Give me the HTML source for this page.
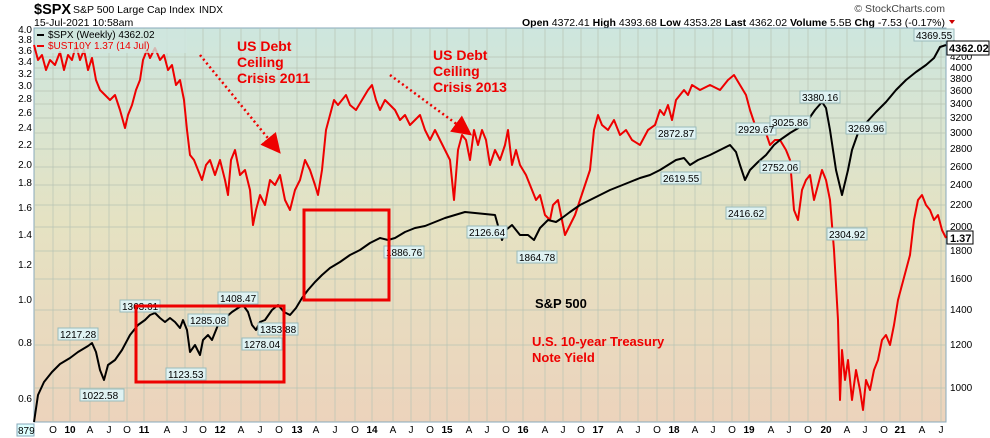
<!DOCTYPE html>
<html><head><meta charset="utf-8"><style>
body{margin:0;background:#fff;}
svg{display:block;font-family:"Liberation Sans",Arial,sans-serif;}
</style></head><body>
<svg width="990" height="438" viewBox="0 0 990 438" xmlns="http://www.w3.org/2000/svg">
<defs>
<linearGradient id="bg" x1="0" y1="0" x2="0" y2="1">
<stop offset="0" stop-color="#cde6de"/><stop offset="0.5" stop-color="#e5e2c2"/><stop offset="1" stop-color="#ecd3bc"/>
</linearGradient>
<marker id="ah" markerWidth="8" markerHeight="8" refX="5" refY="4" orient="auto"><path d="M0,0 L8,4 L0,8 z" fill="#e00"/></marker>
</defs>
<text x="34" y="14" font-size="14.5" font-weight="bold">$SPX</text>
<text x="73" y="13" font-size="10.5">S&amp;P 500 Large Cap Index</text>
<text x="199" y="13" font-size="10">INDX</text>
<text x="34" y="26" font-size="10.5">15-Jul-2021 10:58am</text>
<text x="945" y="12" font-size="10.5" fill="#444" text-anchor="end">© StockCharts.com</text>
<text x="945" y="26" font-size="10.5" text-anchor="end"><tspan font-weight="bold">Open</tspan> 4372.41  <tspan font-weight="bold">High</tspan> 4393.68  <tspan font-weight="bold">Low</tspan> 4353.28  <tspan font-weight="bold">Last</tspan> 4362.02  <tspan font-weight="bold">Volume</tspan> 5.5B  <tspan font-weight="bold">Chg</tspan> -7.53 (-0.17%)</text>
<path d="M949,20 l6,0 l-3,4 z" fill="#c00"/>
<rect x="34" y="28" width="912" height="394" fill="url(#bg)" stroke="#8ab" stroke-width="1"/>
<g stroke="#b8c4b4" stroke-width="0.7">
<path d="M53,28V422M70,28V422M90,28V422M109,28V422M127,28V422M144,28V422M167,28V422M185,28V422M203,28V422M220,28V422M241,28V422M260,28V422M279,28V422M297,28V422M316,28V422M335,28V422M355,28V422M372,28V422M393,28V422M411,28V422M430,28V422M447,28V422M469,28V422M487,28V422M506,28V422M523,28V422M545,28V422M563,28V422M581,28V422M598,28V422M620,28V422M638,28V422M657,28V422M674,28V422M695,28V422M713,28V422M732,28V422M749,28V422M771,28V422M789,28V422M808,28V422M826,28V422M847,28V422M865,28V422M884,28V422M900,28V422M922,28V422M941,28V422"/>
<path d="M34,57H946M34,68H946M34,79H946M34,91H946M34,104H946M34,118H946M34,133H946M34,149H946M34,167H946M34,185H946M34,205H946M34,227H946M34,251H946M34,279H946M34,310H946M34,345H946M34,388H946"/>
</g>
<g font-size="10" text-anchor="end">
<text x="32" y="33">4.0</text><text x="32" y="43">3.8</text><text x="32" y="54">3.6</text><text x="32" y="65">3.4</text><text x="32" y="77">3.2</text><text x="32" y="89">3.0</text><text x="32" y="102">2.8</text><text x="32" y="116">2.6</text><text x="32" y="131">2.4</text><text x="32" y="148">2.2</text><text x="32" y="168">2.0</text><text x="32" y="186">1.8</text><text x="32" y="211">1.6</text><text x="32" y="238">1.4</text><text x="32" y="268">1.2</text><text x="32" y="303">1.0</text><text x="32" y="346">0.8</text><text x="32" y="402">0.6</text>
</g>
<g font-size="10">
<text x="950" y="60">4200</text><text x="950" y="71">4000</text><text x="950" y="82">3800</text><text x="950" y="94">3600</text><text x="950" y="107">3400</text><text x="950" y="121">3200</text><text x="950" y="136">3000</text><text x="950" y="152">2800</text><text x="950" y="170">2600</text><text x="950" y="188">2400</text><text x="950" y="208">2200</text><text x="950" y="230">2000</text><text x="950" y="254">1800</text><text x="950" y="282">1600</text><text x="950" y="313">1400</text><text x="950" y="348">1200</text><text x="950" y="391">1000</text>
</g>
<g font-size="10" text-anchor="middle">
<text x="53" y="433">O</text><text x="70" y="433" font-weight="bold">10</text><text x="90" y="433">A</text><text x="109" y="433">J</text><text x="127" y="433">O</text><text x="144" y="433" font-weight="bold">11</text><text x="167" y="433">A</text><text x="185" y="433">J</text><text x="203" y="433">O</text><text x="220" y="433" font-weight="bold">12</text><text x="241" y="433">A</text><text x="260" y="433">J</text><text x="279" y="433">O</text><text x="297" y="433" font-weight="bold">13</text><text x="316" y="433">A</text><text x="335" y="433">J</text><text x="355" y="433">O</text><text x="372" y="433" font-weight="bold">14</text><text x="393" y="433">A</text><text x="411" y="433">J</text><text x="430" y="433">O</text><text x="447" y="433" font-weight="bold">15</text><text x="469" y="433">A</text><text x="487" y="433">J</text><text x="506" y="433">O</text><text x="523" y="433" font-weight="bold">16</text><text x="545" y="433">A</text><text x="563" y="433">J</text><text x="581" y="433">O</text><text x="598" y="433" font-weight="bold">17</text><text x="620" y="433">A</text><text x="638" y="433">J</text><text x="657" y="433">O</text><text x="674" y="433" font-weight="bold">18</text><text x="695" y="433">A</text><text x="713" y="433">J</text><text x="732" y="433">O</text><text x="749" y="433" font-weight="bold">19</text><text x="771" y="433">A</text><text x="789" y="433">J</text><text x="808" y="433">O</text><text x="826" y="433" font-weight="bold">20</text><text x="847" y="433">A</text><text x="865" y="433">J</text><text x="884" y="433">O</text><text x="900" y="433" font-weight="bold">21</text><text x="922" y="433">A</text><text x="941" y="433">J</text>
</g>
<rect x="17" y="424" width="17" height="12" fill="#dff" stroke="#8ab"/><text x="18" y="434" font-size="10">879</text>
<polyline fill="none" stroke="#e00" stroke-width="2" stroke-linejoin="round" points="34,45 38,60 42,55 46,70 50,60 55,65 60,52 64,70 68,55 72,60 76,45 80,60 84,50 88,70 92,58 96,80 100,90 105,95 110,100 115,95 120,110 125,128 128,115 132,105 136,90 140,80 143,60 147,50 150,58 155,48 160,60 164,55 168,70 172,65 176,85 180,80 184,100 187,130 190,155 194,160 198,170 202,180 206,165 210,160 215,175 220,160 225,180 228,195 231,160 235,150 240,175 245,170 250,190 253,225 256,210 260,195 265,205 270,180 275,185 280,175 285,200 290,210 295,190 300,180 305,160 310,170 315,185 318,195 322,170 326,130 330,115 334,100 338,105 342,100 346,95 350,105 356,110 362,100 368,90 372,85 376,100 380,110 385,100 390,105 395,110 400,120 405,115 410,125 415,120 420,115 425,130 430,140 435,130 440,140 445,150 450,160 454,200 458,150 462,135 466,140 470,160 474,130 478,145 482,130 486,140 490,165 495,150 500,160 505,145 508,130 512,165 516,150 520,165 526,175 532,190 536,200 540,195 545,215 550,220 553,205 558,200 565,235 570,225 575,215 580,200 585,185 590,170 594,130 598,115 602,125 608,130 614,120 620,135 626,130 632,140 640,145 648,130 655,125 660,110 664,115 668,105 672,120 676,100 680,95 684,90 688,95 692,85 700,90 710,85 720,90 728,80 734,75 740,85 746,95 750,110 755,125 760,125 765,130 770,145 775,140 780,140 786,150 790,160 794,210 798,220 802,190 806,180 810,175 814,200 818,185 822,170 826,180 830,200 834,250 838,320 840,400 842,350 845,380 848,360 852,400 856,370 860,390 863,410 866,380 870,390 874,370 878,360 882,340 886,335 890,345 894,325 898,300 902,285 906,270 910,255 914,220 918,200 922,195 926,205 930,210 934,220 938,215 942,230 946,238"/>
<polyline fill="none" stroke="#000" stroke-width="2" stroke-linejoin="round" points="34,422 38,395 44,382 52,372 60,364 70,358 78,352 88,346 92,343 96,352 100,370 104,380 108,365 115,360 122,350 130,335 138,325 145,320 150,315 155,313 160,318 165,322 170,318 175,322 180,328 183,320 187,330 190,352 195,345 200,355 203,340 208,335 212,340 218,325 225,318 232,312 238,308 243,305 248,312 252,325 256,330 260,322 265,320 272,310 278,305 284,312 290,315 296,308 302,298 308,290 315,282 322,275 330,268 340,262 350,255 360,250 370,243 380,238 388,240 395,238 405,232 415,228 425,226 435,222 445,218 455,215 465,212 475,213 485,214 495,215 502,240 506,230 512,225 520,235 528,235 534,240 540,228 548,220 556,222 562,218 570,212 580,205 590,200 600,195 610,190 620,186 630,182 640,178 650,175 660,170 668,165 676,160 684,158 690,165 698,160 710,155 720,150 730,145 736,152 740,165 745,180 750,170 758,162 766,155 774,145 780,140 790,133 800,127 808,120 815,110 822,102 826,108 830,130 836,170 842,195 848,170 852,150 858,133 866,123 876,112 886,102 896,90 906,80 916,72 926,65 934,58 940,47 946,45"/>
<g font-size="10" fill="#000">
<g fill="#dff2f2" stroke="#9bb">
<rect x="58" y="328" width="40" height="12"/><rect x="80" y="389" width="44" height="12"/><rect x="120" y="300" width="40" height="12"/><rect x="188" y="314" width="40" height="12"/><rect x="166" y="368" width="40" height="12"/><rect x="218" y="292" width="40" height="12"/><rect x="242" y="338" width="40" height="12"/><rect x="258" y="323" width="40" height="12"/><rect x="384" y="246" width="40" height="12"/><rect x="467" y="226" width="40" height="12"/><rect x="517" y="251" width="40" height="12"/><rect x="656" y="127" width="40" height="12"/><rect x="661" y="172" width="40" height="12"/><rect x="736" y="123" width="40" height="12"/><rect x="726" y="207" width="40" height="12"/><rect x="770" y="116" width="40" height="12"/><rect x="760" y="161" width="40" height="12"/><rect x="800" y="91" width="40" height="12"/><rect x="827" y="228" width="40" height="12"/><rect x="846" y="122" width="40" height="12"/><rect x="914" y="29" width="40" height="12"/>
</g>
<text x="60" y="338">1217.28</text><text x="82" y="399">1022.58</text><text x="122" y="310">1363.61</text><text x="190" y="324">1285.08</text><text x="168" y="378">1123.53</text><text x="220" y="302">1408.47</text><text x="244" y="348">1278.04</text><text x="260" y="333">1353.88</text><text x="386" y="256">1886.76</text><text x="469" y="236">2126.64</text><text x="519" y="261">1864.78</text><text x="658" y="137">2872.87</text><text x="663" y="182">2619.55</text><text x="738" y="133">2929.67</text><text x="728" y="217">2416.62</text><text x="772" y="126">3025.86</text><text x="762" y="171">2752.06</text><text x="802" y="101">3380.16</text><text x="829" y="238">2304.92</text><text x="848" y="132">3269.96</text><text x="916" y="39">4369.55</text>
</g>
<rect x="947" y="41" width="42" height="14" fill="#fff" stroke="#000"/><text x="949" y="52" font-size="11" font-weight="bold">4362.02</text>
<rect x="947" y="231" width="26" height="13" fill="#fff" stroke="#000"/><text x="950" y="242" font-size="11" font-weight="bold">1.37</text>
<rect x="37" y="29" width="150" height="24" fill="#cfe6de" opacity="0.8"/>
<rect x="37" y="34" width="7" height="2" fill="#000"/><text x="48" y="38" font-size="10">$SPX (Weekly) 4362.02</text>
<rect x="37" y="45" width="7" height="2" fill="#e00"/><text x="48" y="49" font-size="10" fill="#e00">$UST10Y 1.37 (14 Jul)</text>
<g font-size="14" font-weight="bold" fill="#e00">
<text x="237" y="51">US Debt</text><text x="237" y="67">Ceiling</text><text x="237" y="83">Crisis 2011</text>
<text x="433" y="60">US Debt</text><text x="433" y="76">Ceiling</text><text x="433" y="92">Crisis 2013</text>
</g>
<line x1="200" y1="55" x2="276" y2="148" stroke="#e00" stroke-width="2.5" stroke-dasharray="2,3" marker-end="url(#ah)"/>
<line x1="390" y1="75" x2="466" y2="131" stroke="#e00" stroke-width="2.5" stroke-dasharray="2,3" marker-end="url(#ah)"/>
<rect x="136" y="306" width="148" height="76" fill="none" stroke="#e00" stroke-width="3"/>
<rect x="304" y="210" width="85" height="90" fill="none" stroke="#e00" stroke-width="3"/>
<text x="535" y="308" font-size="13" font-weight="bold">S&amp;P 500</text>
<text x="532" y="346" font-size="13" font-weight="bold" fill="#e00">U.S. 10-year Treasury</text>
<text x="532" y="362" font-size="13" font-weight="bold" fill="#e00">Note Yield</text>
</svg>
</body></html>
